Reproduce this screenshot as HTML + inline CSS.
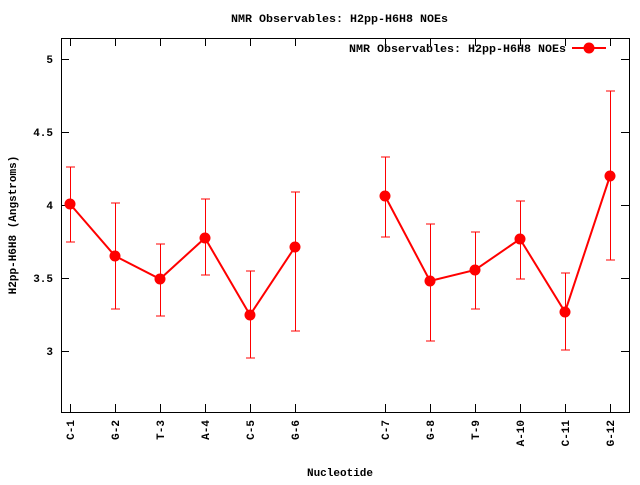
<!DOCTYPE html>
<html><head><style>body{margin:0;background:#fff}svg text{font-family:"Liberation Mono","DejaVu Sans Mono",monospace;font-size:11px;font-weight:bold;fill:#000}</style></head><body>
<svg width="640" height="480" xmlns="http://www.w3.org/2000/svg">
<rect width="640" height="480" fill="#fff"/>
<rect x="61.5" y="38.5" width="568" height="374" fill="none" stroke="#000" stroke-width="1"/>
<g stroke="#000" stroke-width="1">
<path d="M61 59.5h8M629 59.5h-8M61 132.5h8M629 132.5h-8M61 205.5h8M629 205.5h-8M61 278.5h8M629 278.5h-8M61 351.5h8M629 351.5h-8"/>
<path d="M70.5 412v-8M115.5 412v-8M160.5 412v-8M205.5 412v-8M250.5 412v-8M295.5 412v-8M385.5 412v-8M430.5 412v-8M475.5 412v-8M520.5 412v-8M565.5 412v-8M610.5 412v-8"/>
<path d="M70.5 38v8M115.5 38v8M160.5 38v8M205.5 38v8M250.5 38v8M295.5 38v8M385.5 38v8M430.5 38v8M475.5 38v8M520.5 38v8M565.5 38v8M610.5 38v8"/>
</g>
<g text-anchor="end">
<text x="53" y="63">5</text><text x="53" y="136">4.5</text><text x="53" y="209">4</text><text x="53" y="282">3.5</text><text x="53" y="355">3</text>
</g>
<g text-anchor="end">
<text transform="translate(74,420) rotate(-90)">C-1</text>
<text transform="translate(119,420) rotate(-90)">G-2</text>
<text transform="translate(164,420) rotate(-90)">T-3</text>
<text transform="translate(209,420) rotate(-90)">A-4</text>
<text transform="translate(254,420) rotate(-90)">C-5</text>
<text transform="translate(299,420) rotate(-90)">G-6</text>
<text transform="translate(389,420) rotate(-90)">C-7</text>
<text transform="translate(434,420) rotate(-90)">G-8</text>
<text transform="translate(479,420) rotate(-90)">T-9</text>
<text transform="translate(524,420) rotate(-90)">A-10</text>
<text transform="translate(569,420) rotate(-90)">C-11</text>
<text transform="translate(614,420) rotate(-90)">G-12</text>
</g>
<text x="231" y="22" textLength="217" lengthAdjust="spacingAndGlyphs">NMR Observables: H2pp-H6H8 NOEs</text>
<text x="340" y="476" text-anchor="middle">Nucleotide</text>
<text transform="translate(16,225) rotate(-90)" text-anchor="middle">H2pp-H6H8 (Angstroms)</text>
<text x="349" y="52" textLength="217" lengthAdjust="spacingAndGlyphs">NMR Observables: H2pp-H6H8 NOEs</text>
<path d="M572 48h34" stroke="#f00" stroke-width="2"/><circle cx="589" cy="48" r="5.5" fill="#f00"/>
<g stroke="#f00" stroke-width="1" fill="none">
<path d="M70.5 242V167M66 242h9M66 167h9M115.5 309V203M111 309h9M111 203h9M160.5 316V244M156 316h9M156 244h9M205.5 275V199M201 275h9M201 199h9M250.5 358V271M246 358h9M246 271h9M295.5 331V192M291 331h9M291 192h9M385.5 237V157M381 237h9M381 157h9M430.5 341V224M426 341h9M426 224h9M475.5 309V232M471 309h9M471 232h9M520.5 279V201M516 279h9M516 201h9M565.5 350V273M561 350h9M561 273h9M610.5 260V91M606 260h9M606 91h9"/>
</g>
<polyline points="70,204 115,256 160,279 205,238 250,315 295,247" fill="none" stroke="#f00" stroke-width="2"/>
<polyline points="385,196 430,281 475,270 520,239 565,312 610,176" fill="none" stroke="#f00" stroke-width="2"/>
<g fill="#f00">
<circle cx="70" cy="204" r="5.5"/><circle cx="115" cy="256" r="5.5"/><circle cx="160" cy="279" r="5.5"/><circle cx="205" cy="238" r="5.5"/><circle cx="250" cy="315" r="5.5"/><circle cx="295" cy="247" r="5.5"/>
<circle cx="385" cy="196" r="5.5"/><circle cx="430" cy="281" r="5.5"/><circle cx="475" cy="270" r="5.5"/><circle cx="520" cy="239" r="5.5"/><circle cx="565" cy="312" r="5.5"/><circle cx="610" cy="176" r="5.5"/>
</g>
</svg>
</body></html>
